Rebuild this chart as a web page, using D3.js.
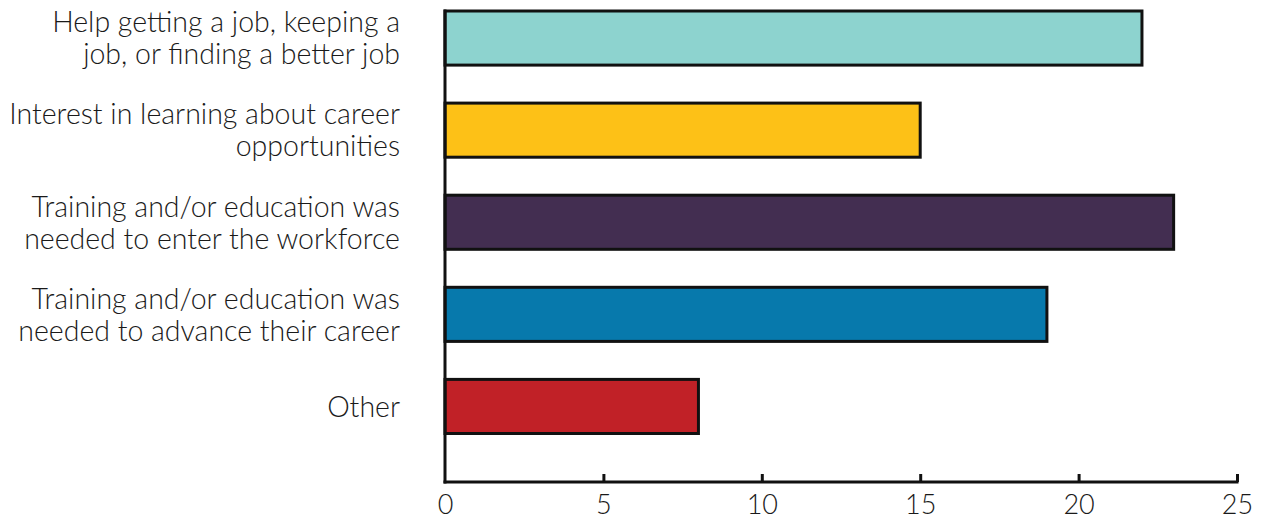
<!DOCTYPE html>
<html><head><meta charset="utf-8">
<script src="https://cdn.jsdelivr.net/npm/d3@7"></script>
<style>body{margin:0;background:#fff}svg{display:block}</style>
</head><body>
<svg id="c" width="1263" height="520"></svg>
<script>
const categories = [
  ["Help getting a job, keeping a", "job, or finding a better job"],
  ["Interest in learning about career", "opportunities"],
  ["Training and/or education was", "needed to enter the workforce"],
  ["Training and/or education was", "needed to advance their career"],
  ["Other"]
];
const values = [22, 15, 23, 19, 8];
const colors = ["#8dd3cf", "#fdc117", "#432e51", "#0779ac", "#c12127"];
const tickValues = [0, 5, 10, 15, 20, 25];

const font = "Lato, 'Noto Sans', sans-serif";
const svg = d3.select("#c");
const x = d3.scaleLinear().domain([0, 25]).range([445, 1237]);
const y = d3.scaleBand().domain(d3.range(categories.length)).range([9.5, 435]).paddingInner(0.38).paddingOuter(0);
const axisY = 482;

svg.selectAll("rect.bar").data(values).join("rect")
  .attr("class", "bar")
  .attr("x", x(0))
  .attr("y", (d, i) => y(i) + 1.5)
  .attr("width", d => x(d) - x(0))
  .attr("height", y.bandwidth() - 3)
  .attr("fill", (d, i) => colors[i])
  .attr("stroke", "#111")
  .attr("stroke-width", 3);

svg.append("line").attr("x1", x(0)).attr("x2", x(0)).attr("y1", 9.5).attr("y2", axisY + 1.5)
  .attr("stroke", "#111").attr("stroke-width", 3);

const xAxis = svg.append("g").attr("transform", `translate(0,${axisY})`)
  .call(d3.axisBottom(x).tickValues(tickValues).tickSizeInner(-8).tickSizeOuter(0).tickPadding(13));
xAxis.select(".domain").attr("stroke", "#111").attr("stroke-width", 3).attr("d", `M${x(0)-1.5},0H${x(25)+1.5}`);
xAxis.selectAll(".tick line").attr("stroke", "#111").attr("stroke-width", 3)
  .attr("display", d => d === 0 ? "none" : null);
xAxis.selectAll(".tick text").attr("font-family", font).attr("font-weight", 300).attr("font-size", 27).attr("fill", "#1a1a1a").attr("dy", "0.72em");

const lh = 32;
const lab = svg.append("g");
categories.forEach((lines, i) => {
  const cy = y(i) + y.bandwidth() / 2;
  const t = lab.append("text").attr("x", 400).attr("text-anchor", "end")
    .attr("font-family", font).attr("font-weight", 300).attr("font-size", 28.5).attr("fill", "#1a1a1a");
  lines.forEach((ln, j) => {
    t.append("tspan").attr("x", 400)
      .attr("y", cy + (j - (lines.length - 1) / 2) * lh)
      .attr("dy", "0.36em").text(ln);
  });
});
</script>
</body></html>
